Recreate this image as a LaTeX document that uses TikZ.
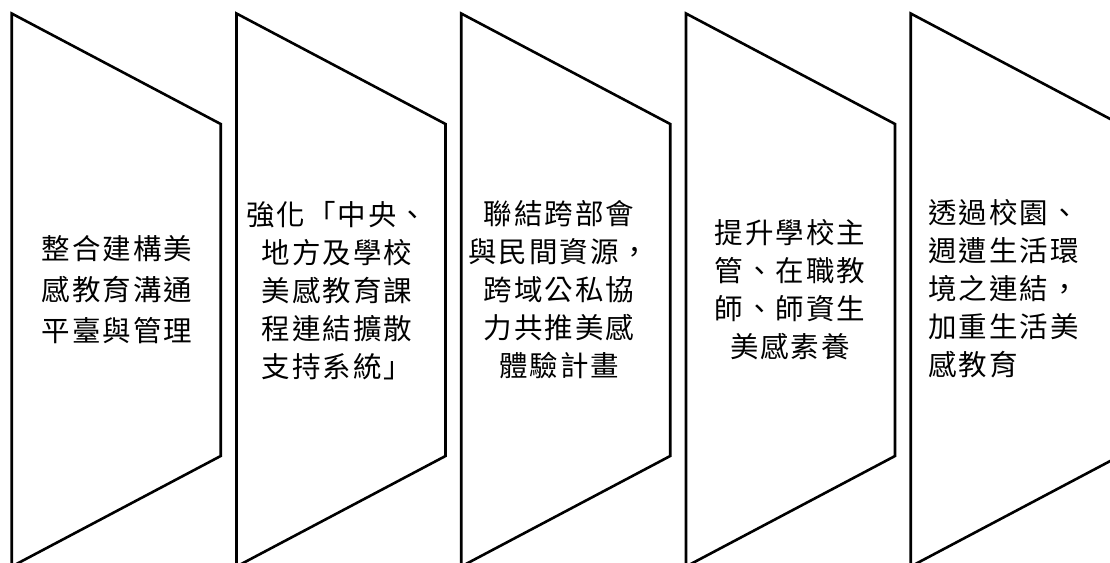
\documentclass[tikz,border=0pt]{standalone}
\usepackage{fontspec}
\newfontfamily\twfont[LetterSpace=7]{Noto Sans CJK TC}

\begin{document}
\begin{tikzpicture}[x=1pt,y=-1pt]
		\tikzstyle{every node}+=[inner sep=0pt]
		\tikzstyle{stage}=[black, line width=2.6pt, line join=miter]
		\tikzstyle{stagetext}=[font=\twfont\fontsize{28.5pt}{38pt}\selectfont, align=center]
		\useasboundingbox (0,0) rectangle (1110,562);
		\clip (0,0) rectangle (1110,562);
		\draw [stage] (11.7,13.5) -- (220.7,124) -- (220.7,456) -- (11.7,566.5) -- cycle;
		\draw [stage] (236.5,13.5) -- (445.5,124) -- (445.5,456) -- (236.5,566.5) -- cycle;
		\draw [stage] (461.2,13.5) -- (670.2,124) -- (670.2,456) -- (461.2,566.5) -- cycle;
		\draw [stage] (686,13.5) -- (895,124) -- (895,456) -- (686,566.5) -- cycle;
		\draw [stage] (910.7,13.5) -- (1119.7,124) -- (1119.7,456) -- (910.7,566.5) -- cycle;
		\node (integrate) at (117,290) [stagetext, font=\twfont\fontsize{28.5pt}{41pt}\selectfont] {整合建構美\\感教育溝通\\平臺與管理};
		\node (support) at (337,291) [stagetext] {強化「中央、\\地方及學校\\美感教育課\\程連結擴散\\支持系統」};
		\node (resource) at (559,290) [stagetext] {聯結跨部會\\與民間資源，\\跨域公私協\\力共推美感\\體驗計畫};
		\node (teacher) at (790,290) [stagetext] {提升學校主\\管、在職教\\師、師資生\\美感素養};
		\node (living) at (928,289) [stagetext, anchor=west, align=left] {透過校園、\\週遭生活環\\境之連結，\\加重生活美\\感教育};
	\end{tikzpicture}
\end{document}
